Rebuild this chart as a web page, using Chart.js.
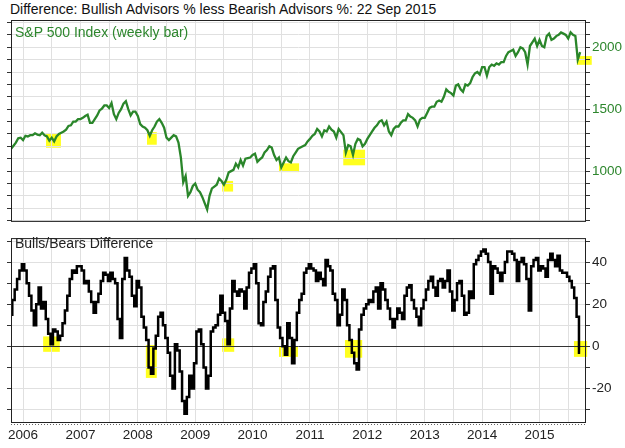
<!DOCTYPE html>
<html>
<head>
<meta charset="utf-8">
<script src="https://cdn.jsdelivr.net/npm/chart.js@4.4.0/dist/chart.umd.min.js"></script>
<style>
  body { margin: 0; background: #fff; font-family: "Liberation Sans", Arial, sans-serif; }
  #wrap { position: relative; width: 625px; height: 448px; overflow: hidden; }
  canvas { position: absolute; left: 0; }
  .lbl { position: absolute; font-size: 14px; line-height: 15px; white-space: nowrap; }
</style>
</head>
<body>
<div id="wrap">
  <div class="lbl" style="left:10px;top:2px;color:#111">Difference: Bullish Advisors % less Bearish Advisors %: 22 Sep 2015</div>
  <canvas id="top" width="625" height="232" style="top:0"></canvas>
  <canvas id="bot" width="625" height="220" style="top:228px"></canvas>
  <div class="lbl" style="left:15px;top:25px;color:#2d862d">S&amp;P 500 Index (weekly bar)</div>
  <div class="lbl" style="left:15px;top:236px;color:#222">Bulls/Bears Difference</div>
</div>
<script>
// half-monthly samples, first one mid Oct 2005 (month index 9.5)
var startMonth = 9.5;

// S&P 500
var spx = [
  1180, 1205, 1230, 1265, 1270,
  1250, 1285, 1280, 1290, 1290, 1305, 1295, 1290, 1310, 1290, 1280, 1245, 1270, 1240, 1280, 1300, 1310, 1320, 1335, 1365, 1370, 1400, 1400, 1420,
  1420, 1430, 1445, 1455, 1390, 1390, 1420, 1450, 1490, 1505, 1530, 1530, 1510, 1550, 1460, 1420, 1470, 1500, 1545, 1565, 1500, 1450, 1480, 1480,
  1445, 1380, 1360, 1350, 1330, 1285, 1330, 1360, 1400, 1420, 1390, 1350, 1270, 1250, 1270, 1290, 1280, 1230, 1110, 910, 960, 800, 830, 880,
  900, 850, 830, 790, 740, 690, 800, 860, 875, 890, 940, 920, 890, 930, 990, 1000, 1010, 1060, 1030, 1090, 1045, 1100, 1105, 1110,
  1130, 1140, 1075, 1095, 1110, 1150, 1170, 1200, 1190, 1130, 1090, 1110, 1030, 1070, 1110, 1080, 1070, 1120, 1150, 1180, 1190, 1200, 1210, 1240,
  1260, 1285, 1300, 1340, 1320, 1280, 1330, 1320, 1360, 1335, 1320, 1270, 1340, 1315, 1290, 1150, 1210, 1200, 1130, 1220, 1260, 1250, 1200, 1220,
  1260, 1290, 1320, 1350, 1370, 1400, 1410, 1370, 1400, 1320, 1290, 1340, 1360, 1360, 1390, 1410, 1410, 1460, 1440, 1430, 1410, 1360, 1415, 1430,
  1430, 1470, 1510, 1520, 1520, 1560, 1570, 1560, 1600, 1660, 1640, 1630, 1610, 1690, 1700, 1660, 1640, 1700, 1690, 1710, 1760, 1790, 1800, 1780,
  1840, 1840, 1770, 1840, 1860, 1850, 1870, 1860, 1880, 1880, 1930, 1960, 1970, 1980, 1930, 1960, 2000, 1990, 1960, 1860, 2010, 2040, 2070, 2010,
  2060, 2010, 2000, 2090, 2110, 2060, 2070, 2090, 2100, 2120, 2110, 2100, 2070, 2120, 2100, 2090, 1900, 1960
];

// bulls minus bears %
var bullBear = [
  15, 22, 27, 32, 36,
  39, 36, 30, 24, 17, 10, 20, 28, 18, 21, 13, 6, 1, 8, 7, 3, 5, 11, 17, 24, 32, 36, 35, 38,
  38, 36, 30, 31, 26, 21, 16, 21, 25, 31, 35, 34, 31, 35, 32, 30, 13, 4, 32, 42, 36, 33, 24, 19,
  31, 28, 14, 9, 3, -10, -13, -1, 5, 14, 16, 10, 4, -3, -14, -20, 1, -2, -12, -26, -32, -24, -14, -20,
  -8, 7, 8, 1, -10, -20, -14, 7, 9, 10, 15, 24, 16, 12, 1, 18, 31, 26, 24, 27, 26, 18, 28, 35,
  37, 39, 30, 11, 10, 21, 26, 33, 37, 38, 22, 9, 4, 0, -4, 11, 4, -8, 3, 16, 22, 25, 35, 37,
  39, 37, 36, 31, 35, 32, 29, 41, 38, 36, 25, 22, 10, 15, 27, 22, 10, 3, -3, -8, -11, 8, 15, 18,
  20, 22, 21, 26, 28, 18, 30, 27, 22, 18, 13, 9, 13, 18, 16, 13, 24, 28, 29, 22, 18, 14, 10, 18,
  22, 27, 31, 33, 28, 24, 31, 32, 28, 31, 36, 26, 17, 22, 30, 31, 24, 15, 16, 26, 23, 39, 41, 43,
  45, 46, 44, 40, 25, 38, 37, 35, 31, 35, 40, 45, 45, 44, 41, 31, 40, 42, 39, 32, 17, 38, 41, 42,
  36, 38, 37, 33, 41, 44, 41, 38, 43, 36, 35, 35, 33, 31, 28, 23, 14, -3
];

// yellow boxes (decimal years / values)
var spxBoxFrom = [2006.40, 2008.16, 2009.47, 2010.46, 2011.58, 2015.65];
var spxBoxTo   = [2006.66, 2008.33, 2009.66, 2010.81, 2011.96, 2015.91];
var spxBoxLow  = [1189, 1213, 835, 992, 1047, 1858];
var spxBoxHigh = [1299, 1315, 921, 1063, 1173, 1929];
var diffBoxFrom = [2006.35, 2008.14, 2009.47, 2010.46, 2011.61, 2015.60];
var diffBoxTo   = [2006.64, 2008.33, 2009.68, 2010.79, 2011.91, 2015.83];
var diffBoxLow  = [-2.6, -15, -2.6, -5, -5.4, -5];
var diffBoxHigh = [4.7, 0.6, 3.8, 0, 3, 2.5];

var yearTicks = [2006, 2006.5, 2007, 2007.5, 2008, 2008.5, 2009, 2009.5, 2010, 2010.5,
                 2011, 2011.5, 2012, 2012.5, 2013, 2013.5, 2014, 2014.5, 2015, 2015.5];
var spxTicks = [600, 700, 800, 900, 1000, 1100, 1200, 1300, 1400, 1500, 1600, 1700, 1800, 1900, 2000, 2100, 2200];
var diffTicks = [-30, -20, -10, 0, 10, 20, 30, 40, 50];

var FONT = '"Liberation Sans", Arial, sans-serif';
var GRID = '#e0e0e0';

function toPoints(vals) {
  return vals.map(function (v, i) {
    return { x: 2005 + (startMonth + i / 2) / 12, y: v };
  });
}

function boxes(from, to, lo, hi) {
  return {
    id: 'boxes',
    beforeDraw: function (chart) {
      var ctx = chart.ctx, xs = chart.scales.x, ys = chart.scales.y;
      ctx.save();
      ctx.fillStyle = '#ffff1e';
      for (var i = 0; i < from.length; i++) {
        var x1 = xs.getPixelForValue(from[i]), x2 = xs.getPixelForValue(to[i]);
        var y1 = ys.getPixelForValue(hi[i]), y2 = ys.getPixelForValue(lo[i]);
        ctx.fillRect(x1, y1, x2 - x1, y2 - y1);
      }
      ctx.restore();
    }
  };
}

// dark border round the plot, plus the dotted rule under the bottom panel
function frame(dotted) {
  return {
    id: 'frame',
    afterDraw: function (chart) {
      var a = chart.chartArea, ctx = chart.ctx;
      ctx.save();
      ctx.strokeStyle = '#222';
      ctx.lineWidth = 1;
      ctx.strokeRect(a.left + 0.5, a.top + 0.5, a.right - a.left - 1, a.bottom - a.top - 1);
      if (dotted) {
        ctx.strokeStyle = '#666';
        ctx.setLineDash([1, 2]);
        ctx.beginPath();
        ctx.moveTo(a.left, a.bottom + 1.5);
        ctx.lineTo(a.right, a.bottom + 1.5);
        ctx.stroke();
      }
      ctx.restore();
    }
  };
}

function setTicks(list) {
  return function (s) { s.ticks = list.map(function (v) { return { value: v }; }); };
}

function xAxis(showLabels) {
  return {
    type: 'linear', min: 2005.79, max: 2015.81,
    afterBuildTicks: setTicks(yearTicks),
    afterFit: function (s) { s.height = showLabels ? 25 : 0; },
    grid: { color: GRID, drawTicks: false },
    border: { display: false },
    ticks: {
      display: showLabels, autoSkip: false, maxRotation: 0, padding: 4,
      color: '#222', font: { family: FONT, size: 13.5 },
      callback: function (v) { return v % 1 === 0 ? String(v) : ''; }
    }
  };
}

function leftTicks(min, max, list) {
  return {
    position: 'left', min: min, max: max,
    afterBuildTicks: setTicks(list),
    afterFit: function (s) { s.width = 4; },
    grid: { drawOnChartArea: false, tickLength: 4, tickColor: '#333' },
    border: { display: false },
    ticks: { display: false }
  };
}

new Chart(document.getElementById('top'), {
  type: 'line',
  data: {
    datasets: [{
      data: toPoints(spx),
      borderColor: '#2a862a',
      borderWidth: 2.3,
      pointRadius: 0,
      tension: 0
    }]
  },
  options: {
    responsive: false,
    animation: false,
    layout: { padding: { top: 20, left: 7, right: 0, bottom: 5 } },
    plugins: { legend: { display: false }, tooltip: { enabled: false } },
    scales: {
      x: xAxis(false),
      y: {
        position: 'right', min: 590, max: 2220,
        afterBuildTicks: setTicks(spxTicks),
        afterFit: function (s) { s.width = 39; },
        grid: { color: GRID, tickLength: 4, tickColor: '#333' },
        border: { display: false },
        ticks: {
          autoSkip: false, padding: 2, color: '#2d862d', font: { family: FONT, size: 13.5 },
          callback: function (v) { return v % 500 === 0 ? String(v) : ''; }
        }
      },
      yl: leftTicks(590, 2220, spxTicks)
    }
  },
  plugins: [boxes(spxBoxFrom, spxBoxTo, spxBoxLow, spxBoxHigh), frame(false)]
});

new Chart(document.getElementById('bot'), {
  type: 'line',
  data: {
    datasets: [{
      data: toPoints(bullBear),
      borderColor: '#000',
      borderWidth: 2.5,
      pointRadius: 0,
      stepped: 'middle'
    }]
  },
  options: {
    responsive: false,
    animation: false,
    layout: { padding: { top: 4, left: 7, right: 0, bottom: 0 } },
    plugins: { legend: { display: false }, tooltip: { enabled: false } },
    scales: {
      x: xAxis(true),
      y: {
        position: 'right', min: -36.4, max: 51.4,
        afterBuildTicks: setTicks(diffTicks),
        afterFit: function (s) { s.width = 39; },
        grid: {
          color: function (c) { return c.tick && c.tick.value === 0 ? '#333' : GRID; },
          tickLength: 4, tickColor: '#333'
        },
        border: { display: false },
        ticks: {
          autoSkip: false, padding: 2, color: '#222', font: { family: FONT, size: 13.5 },
          callback: function (v) { return v % 20 === 0 ? String(v) : ''; }
        }
      },
      yl: leftTicks(-36.4, 51.4, diffTicks)
    }
  },
  plugins: [boxes(diffBoxFrom, diffBoxTo, diffBoxLow, diffBoxHigh), frame(true)]
});
</script>
</body>
</html>
